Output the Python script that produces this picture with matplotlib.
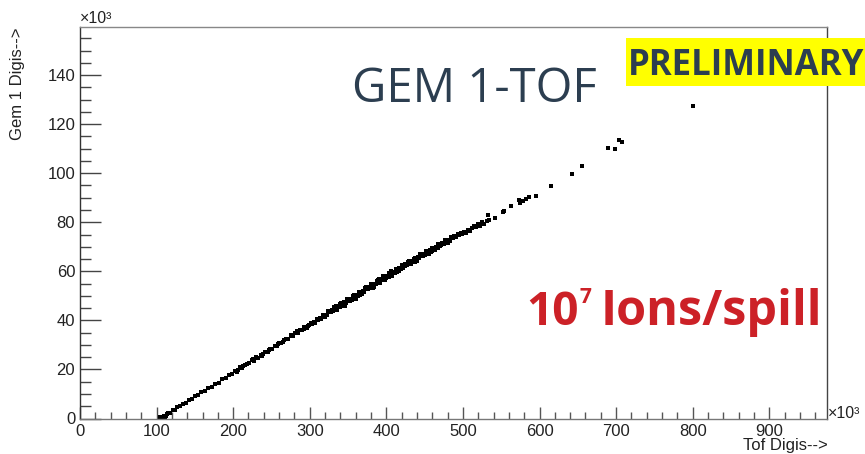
import matplotlib
matplotlib.use("Agg")
import matplotlib.pyplot as plt
from matplotlib.ticker import MultipleLocator, FixedLocator
from matplotlib.patches import Rectangle

# ---------------- data (units of 10^3 digis) ----------------
tof_low = [104, 105, 106, 107, 108, 109, 110, 111, 112, 113, 115, 118, 121, 124, 127, 131,
           134, 138, 142, 146, 150, 154, 158, 163, 167, 172, 176, 181, 185, 190, 194, 199]
gem_low = [0.1, 0.5, 0.3, 0.2, 0.4, 0.8, 1.2, 0.6, 1.1, 1.7, 2.3, 2.4, 3.4, 3.5, 4.6, 5.0,
           6.0, 6.3, 7.6, 7.8, 9.1, 9.4, 10.7, 11.2, 12.5, 12.9, 14.2, 14.6, 16.0, 16.4, 17.8, 18.2]

tof_mid = [203, 205, 206, 209, 212, 213, 215, 218, 221, 224, 226, 227, 230, 233, 236, 238, 239,
           242, 245, 247, 248, 251, 254, 257, 258, 260, 263, 265, 266, 269, 272, 275, 276, 278,
           281, 283, 284, 287, 290, 292, 293, 296, 298, 299]
gem_mid = [19.5, 19.0, 19.6, 20.8, 20.7, 21.5, 21.9, 22.4, 22.5, 23.7, 24.2, 23.6, 24.9, 24.8,
           26.0, 25.6, 26.1, 27.3, 27.2, 28.1, 28.4, 28.3, 29.6, 29.5, 30.3, 30.8, 30.7, 31.1,
           31.9, 32.5, 32.4, 33.7, 33.9, 33.6, 34.9, 35.6, 34.8, 36.0, 36.1, 36.6, 37.2, 37.1,
           37.8, 38.3]

tof_dense_a = list(range(301, 500, 2))
gem_dense_a = [38.8, 38.5, 39.3, 39.0, 40.7, 40.2, 41.1, 40.7, 42.0, 41.6,
               42.4, 42.1, 43.8, 43.3, 44.2, 43.8, 45.1, 44.8, 45.6, 45.3,
               47.0, 46.5, 47.3, 46.9, 48.2, 47.9, 48.7, 48.4, 50.1, 49.6,
               50.5, 50.1, 51.4, 51.1, 51.8, 51.5, 53.2, 52.7, 53.6, 53.2,
               54.5, 54.2, 55.0, 54.7, 56.4, 55.9, 56.8, 56.3, 57.6, 57.3,
               58.1, 57.8, 59.5, 59.0, 59.9, 59.5, 60.8, 60.5, 61.3, 60.9,
               62.6, 62.0, 62.9, 62.5, 63.7, 63.4, 64.1, 63.8, 65.5, 64.9,
               65.8, 65.3, 66.6, 66.3, 67.0, 66.7, 68.3, 67.8, 68.7, 68.2,
               69.5, 69.1, 69.9, 69.6, 71.2, 70.7, 71.5, 71.1, 72.4, 72.0,
               72.8, 72.4, 74.1, 73.6, 74.4, 74.0, 75.2, 74.9, 75.7, 75.3]

tof_dense_b = list(range(320, 481, 4))
gem_dense_b = [41.2, 43.9, 43.3, 45.3, 44.2, 46.7, 45.9, 48.6, 48.0, 50.0, 48.9,
               51.4, 50.7, 53.3, 52.7, 54.7, 53.6, 56.1, 55.4, 58.0, 57.4, 59.4,
               58.3, 60.8, 60.1, 62.7, 62.0, 63.9, 62.8, 65.2, 64.4, 67.0, 66.3,
               68.3, 67.1, 69.5, 68.7, 71.3, 70.7, 72.6, 71.4]

tof_dense_c = [334, 346, 358, 366, 374, 382, 390, 398, 406, 414, 422, 430, 438, 446, 458, 470]
gem_dense_c = [45.9, 46.0, 50.2, 50.4, 53.7, 53.2, 57.0, 56.6, 60.2, 59.8, 61.4, 64.2, 64.0,
               67.2, 67.9, 70.5]

tof_high = [502, 504, 507, 509, 512, 515, 517, 520, 522, 525, 527, 531, 533, 534, 542,
            552, 553.5, 563, 573.5, 574, 578, 582, 586, 596, 615, 643, 655, 690, 699,
            704, 708, 800]
gem_high = [76.2, 75.8, 77.0, 76.4, 77.6, 78.3, 77.9, 79.1, 78.4, 80.0, 79.5, 80.6, 82.9,
            81.0, 81.7, 84.2, 84.8, 86.7, 89.0, 87.9, 88.7, 89.4, 90.2, 90.9, 94.8, 99.7,
            102.9, 110.3, 109.7, 113.5, 112.6, 127.4]

x_ticks = [0, 100, 200, 300, 400, 500, 600, 700, 800, 900]
y_ticks = [0, 20, 40, 60, 80, 100, 120, 140]

W, H = 865, 454


def fx(px):
    return px / W


def fy(py):
    return 1 - py / H


fig = plt.figure(figsize=(W / 100, H / 100), dpi=100)
ax = fig.add_axes([fx(80), fy(418.5), fx(826.7) - fx(80), fy(27.3) - fy(418.5)])

for xs, ys in [(tof_low, gem_low), (tof_mid, gem_mid), (tof_dense_a, gem_dense_a),
               (tof_dense_b, gem_dense_b), (tof_dense_c, gem_dense_c), (tof_high, gem_high)]:
    ax.plot(xs, ys, linestyle="none", marker="s", markersize=2.2,
            markeredgewidth=0, color="black")

ax.set_xlim(0, 975)
ax.set_ylim(0, 159.5)
ax.xaxis.set_major_locator(FixedLocator(x_ticks))
ax.yaxis.set_major_locator(FixedLocator(y_ticks))
ax.xaxis.set_minor_locator(MultipleLocator(20))
ax.yaxis.set_minor_locator(MultipleLocator(5))
ax.set_xticklabels([str(v) for v in x_ticks])
ax.set_yticklabels([str(v) for v in y_ticks])

for lab in ax.get_xticklabels() + ax.get_yticklabels():
    lab.set_fontfamily("Liberation Sans")
    lab.set_fontsize(12)
    lab.set_color("#222222")

ax.tick_params(axis="y", which="major", direction="in", length=15, width=1, color="#444444", pad=3.5)
ax.tick_params(axis="y", which="minor", direction="in", length=8, width=1, color="#444444")
ax.tick_params(axis="x", which="major", direction="in", length=9, width=1, color="#555555", pad=4)
ax.tick_params(axis="x", which="minor", direction="in", length=5, width=1, color="#555555")

ax.spines["left"].set_color("#333333")
ax.spines["bottom"].set_color("#777777")
ax.spines["top"].set_color("#888888")
ax.spines["right"].set_color("#444444")
for s in ax.spines.values():
    s.set_linewidth(1.0)

# exponent labels
fig.text(fx(80), fy(23), "×10³", fontfamily="Liberation Sans", fontsize=11.5,
         ha="left", va="baseline", color="#222222")
fig.text(fx(828), fy(418), "×10³", fontfamily="Liberation Sans", fontsize=11.5,
         ha="left", va="baseline", color="#222222")

# axis titles
fig.text(fx(18), fy(27), "Gem 1 Digis-->", fontfamily="Liberation Sans", fontsize=12,
         rotation=90, ha="center", va="top", color="#222222")
fig.text(fx(828), fy(450), "Tof Digis-->", fontfamily="Liberation Sans", fontsize=12,
         ha="right", va="baseline", color="#222222")

# overlay annotations
fig.text(fx(352), fy(102), "GEM 1-TOF", fontfamily="Open Sans", fontsize=34,
         ha="left", va="baseline", color="#2c3e50")

fig.patches.append(Rectangle((fx(626), fy(86)), fx(W) - fx(626) + 0.01, fy(38) - fy(86),
                             transform=fig.transFigure, facecolor="#ffff00",
                             edgecolor="none", zorder=5))
fig.text(fx(628), fy(75), "PRELIMINARY", fontfamily="Open Sans", fontweight="bold",
         fontsize=25, ha="left", va="baseline", color="#2c3e50", zorder=6)

fig.text(fx(526), fy(325), "10", fontfamily="Open Sans", fontweight="bold", fontsize=33,
         ha="left", va="baseline", color="#cc2127")
fig.text(fx(580), fy(303), "7", fontfamily="Open Sans", fontweight="bold", fontsize=15,
         ha="left", va="baseline", color="#cc2127")
fig.text(fx(601), fy(325), "Ions/spill", fontfamily="Open Sans", fontweight="bold",
         fontsize=35, ha="left", va="baseline", color="#cc2127")

fig.savefig("out.png", dpi=100)
